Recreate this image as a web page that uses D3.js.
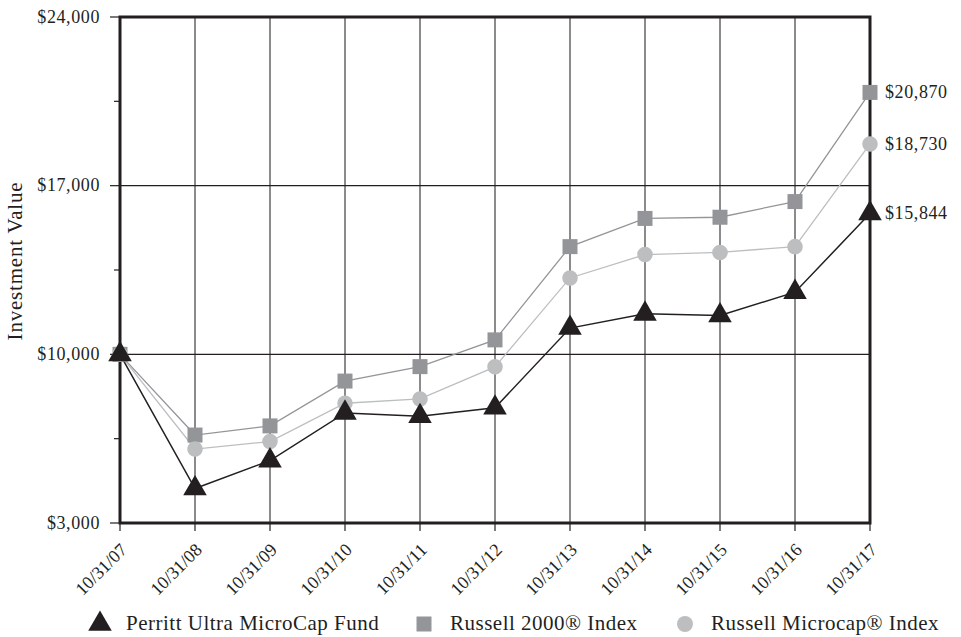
<!DOCTYPE html>
<html>
<head>
<meta charset="utf-8">
<script src="https://cdn.jsdelivr.net/npm/d3@7"></script>
<style>
  body { margin: 0; background: #fff; }
  text { font-family: "Liberation Serif", "DejaVu Serif", serif; fill: #231f20; }
</style>
</head>
<body>
<div id="chart"></div>
<script>
// data
var dates = ["10/31/07", "10/31/08", "10/31/09", "10/31/10", "10/31/11", "10/31/12",
             "10/31/13", "10/31/14", "10/31/15", "10/31/16", "10/31/17"];
var perritt = [10000, 4430, 5590, 7570, 7430, 7780, 11090, 11680, 11610, 12580, 15844];
var russell2000 = [10000, 6650, 7030, 8890, 9490, 10600, 14470, 15640, 15690, 16340, 20870];
var microcap = [10000, 6070, 6380, 7970, 8150, 9480, 13170, 14140, 14230, 14470, 18730];
var yTicks = [3000, 6500, 10000, 13500, 17000, 20500, 24000];
var yLabels = [3000, 10000, 17000, 24000];

var margin = { top: 17, right: 91, bottom: 114, left: 120 },
    width = 961 - margin.left - margin.right,
    height = 637 - margin.top - margin.bottom;

var svg = d3.select("#chart")
    .append("svg")
    .attr("width", 961)
    .attr("height", 637)
    .append("g")
    .attr("transform", "translate(" + margin.left + "," + margin.top + ")");

var x = d3.scalePoint()
    .domain(dates)
    .range([0, width]);

var y = d3.scaleLinear()
    .domain([3000, 24000])
    .range([height, 0]);

// vertical grid
svg.append("g")
    .selectAll("line")
    .data(dates.slice(1, -1))
    .join("line")
    .attr("x1", function (d) { return x(d); })
    .attr("x2", function (d) { return x(d); })
    .attr("y1", 0)
    .attr("y2", height)
    .attr("stroke", "#4d4d4f")
    .attr("stroke-width", 1.3);

// horizontal grid
svg.append("g")
    .selectAll("line")
    .data([10000, 17000])
    .join("line")
    .attr("x1", 0)
    .attr("x2", width)
    .attr("y1", function (d) { return y(d); })
    .attr("y2", function (d) { return y(d); })
    .attr("stroke", "#231f20")
    .attr("stroke-width", 1.2);

// Y axis ticks
var yAxis = svg.append("g");
yAxis.selectAll("line")
    .data(yTicks)
    .join("line")
    .attr("x1", function (d) { return yLabels.indexOf(d) >= 0 ? -10 : -6; })
    .attr("x2", 0)
    .attr("y1", function (d) { return y(d); })
    .attr("y2", function (d) { return y(d); })
    .attr("stroke", "#231f20")
    .attr("stroke-width", 1.2);
yAxis.selectAll("text")
    .data(yLabels)
    .join("text")
    .attr("x", -20)
    .attr("y", function (d) { return y(d); })
    .attr("dy", "0.32em")
    .attr("text-anchor", "end")
    .style("font-size", "18px")
    .style("letter-spacing", "0.6px")
    .text(function (d) { return "$" + d3.format(",")(d); });

// X axis ticks
var xAxis = svg.append("g");
xAxis.selectAll("line")
    .data(dates)
    .join("line")
    .attr("x1", function (d) { return x(d); })
    .attr("x2", function (d) { return x(d); })
    .attr("y1", height)
    .attr("y2", height + 8)
    .attr("stroke", "#231f20")
    .attr("stroke-width", 1.2);
xAxis.selectAll("text")
    .data(dates)
    .join("text")
    .attr("transform", function (d) { return "translate(" + (x(d) + 8) + "," + (height + 28) + ") rotate(-45)"; })
    .attr("text-anchor", "end")
    .style("font-size", "18px")
    .text(function (d) { return d; });

// frame
svg.append("rect")
    .attr("x", 0)
    .attr("y", 0)
    .attr("width", width)
    .attr("height", height)
    .attr("fill", "none")
    .attr("stroke", "#231f20")
    .attr("stroke-width", 3);

// Y axis label
svg.append("text")
    .attr("transform", "rotate(-90)")
    .attr("x", -244)
    .attr("y", -98)
    .attr("text-anchor", "middle")
    .style("font-size", "21px")
    .style("letter-spacing", "0.8px")
    .text("Investment Value");

var series = [
    { name: "Russell 2000\u00AE Index", values: russell2000, color: "#939598", lw: 1.3, symbol: d3.symbolSquare, size: 225 },
    { name: "Russell Microcap\u00AE Index", values: microcap, color: "#bcbec0", lw: 1.3, symbol: d3.symbolCircle, size: 190 },
    { name: "Perritt Ultra MicroCap Fund", values: perritt, color: "#231f20", lw: 1.5, symbol: d3.symbolTriangle, size: 240 }
];

var line = d3.line()
    .x(function (d, i) { return x(dates[i]); })
    .y(function (d) { return y(d); });

series.forEach(function (s) {
    svg.append("path")
        .datum(s.values)
        .attr("d", line)
        .attr("fill", "none")
        .attr("stroke", s.color)
        .attr("stroke-width", s.lw);
});

series.forEach(function (s) {
    svg.append("g")
        .selectAll("path")
        .data(s.values)
        .join("path")
        .attr("transform", function (d, i) { return "translate(" + x(dates[i]) + "," + y(d) + ")"; })
        .attr("d", d3.symbol().type(s.symbol).size(s.size))
        .attr("fill", s.color);

    // end value label
    var last = s.values[s.values.length - 1];
    svg.append("text")
        .attr("x", width + 15)
        .attr("y", y(last))
        .attr("dy", "0.32em")
        .style("font-size", "18px")
        .style("letter-spacing", "0.6px")
        .text("$" + d3.format(",")(last));
});

// legend
var legendItems = [
    { name: "Perritt Ultra MicroCap Fund", color: "#231f20", symbol: d3.symbolTriangle, size: 240, lx: -20 },
    { name: "Russell 2000\u00AE Index", color: "#939598", symbol: d3.symbolSquare, size: 225, lx: 304 },
    { name: "Russell Microcap\u00AE Index", color: "#bcbec0", symbol: d3.symbolCircle, size: 200, lx: 565 }
];
var legend = svg.append("g")
    .attr("transform", "translate(0," + (height + 101) + ")");
legendItems.forEach(function (it) {
    legend.append("path")
        .attr("transform", "translate(" + it.lx + ",0)")
        .attr("d", d3.symbol().type(it.symbol).size(it.size))
        .attr("fill", it.color);
    legend.append("text")
        .attr("x", it.lx + 26)
        .attr("y", 6)
        .style("font-size", "21px")
        .style("letter-spacing", "0.5px")
        .text(it.name);
});
</script>
</body>
</html>
